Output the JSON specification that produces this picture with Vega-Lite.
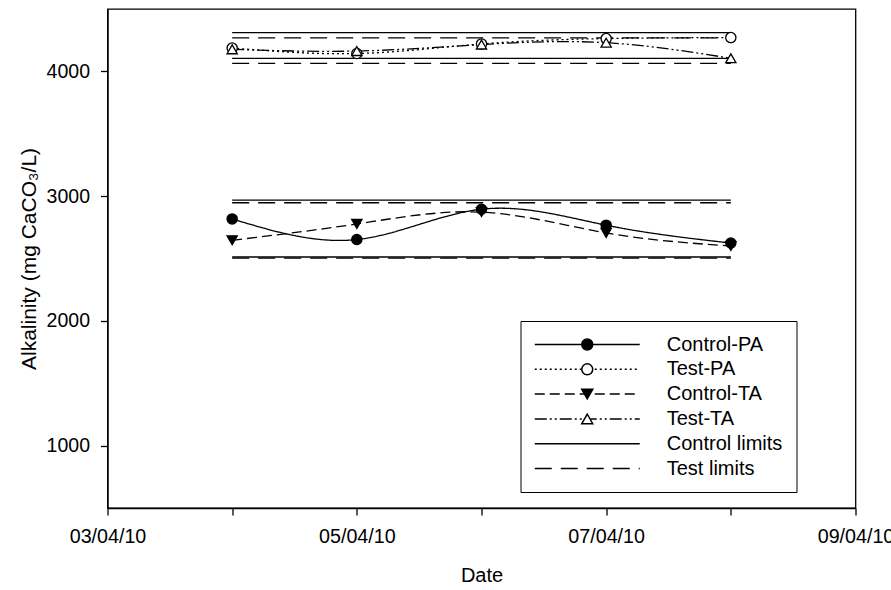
{
  "$schema": "https://vega.github.io/schema/vega-lite/v6.json",
  "width": 748,
  "height": 499,
  "autosize": {"type": "none"},
  "padding": {"left": 107.5, "top": 9, "right": 35.5, "bottom": 82},
  "background": "white",
  "config": {
    "font": "Liberation Sans",
    "view": {"stroke": "black", "strokeWidth": 1.3},
    "axis": {
      "domainColor": "black", "domainWidth": 1.3, "tickColor": "black", "tickWidth": 1.3,
      "labelColor": "black", "titleColor": "black", "titleFontWeight": "normal", "grid": false,
      "labelFont": "Liberation Sans", "titleFont": "Liberation Sans"
    },
    "legend": {"labelFont": "Liberation Sans"}
  },
  "datasets": {
    "pts": [
      {"series": "Control-PA", "date": "2010/04/04", "value": 2817},
      {"series": "Control-PA", "date": "2010/04/05", "value": 2652},
      {"series": "Control-PA", "date": "2010/04/06", "value": 2895},
      {"series": "Control-PA", "date": "2010/04/07", "value": 2767},
      {"series": "Control-PA", "date": "2010/04/08", "value": 2624},
      {"series": "Test-PA", "date": "2010/04/04", "value": 4187},
      {"series": "Test-PA", "date": "2010/04/05", "value": 4143},
      {"series": "Test-PA", "date": "2010/04/06", "value": 4220},
      {"series": "Test-PA", "date": "2010/04/07", "value": 4263},
      {"series": "Test-PA", "date": "2010/04/08", "value": 4271},
      {"series": "Control-TA", "date": "2010/04/04", "value": 2646},
      {"series": "Control-TA", "date": "2010/04/05", "value": 2777},
      {"series": "Control-TA", "date": "2010/04/06", "value": 2872},
      {"series": "Control-TA", "date": "2010/04/07", "value": 2705},
      {"series": "Control-TA", "date": "2010/04/08", "value": 2600},
      {"series": "Test-TA", "date": "2010/04/04", "value": 4177},
      {"series": "Test-TA", "date": "2010/04/05", "value": 4163},
      {"series": "Test-TA", "date": "2010/04/06", "value": 4215},
      {"series": "Test-TA", "date": "2010/04/07", "value": 4230},
      {"series": "Test-TA", "date": "2010/04/08", "value": 4105}
    ],
    "lim": [
      {"series": "Control limits", "date": "2010/04/04", "end": "2010/04/08", "value": 4310},
      {"series": "Control limits", "date": "2010/04/04", "end": "2010/04/08", "value": 4104},
      {"series": "Control limits", "date": "2010/04/04", "end": "2010/04/08", "value": 2968},
      {"series": "Control limits", "date": "2010/04/04", "end": "2010/04/08", "value": 2512},
      {"series": "Test limits", "date": "2010/04/04", "end": "2010/04/08", "value": 4268},
      {"series": "Test limits", "date": "2010/04/04", "end": "2010/04/08", "value": 4064},
      {"series": "Test limits", "date": "2010/04/04", "end": "2010/04/08", "value": 2947},
      {"series": "Test limits", "date": "2010/04/04", "end": "2010/04/08", "value": 2503}
    ]
  },
  "encoding": {
    "x": {
      "field": "date", "type": "temporal",
      "scale": {"domain": [{"year": 2010, "month": 4, "date": 3}, {"year": 2010, "month": 4, "date": 9}], "nice": false},
      "axis": {
        "title": "Date",
        "values": [
          {"year": 2010, "month": 4, "date": 3}, {"year": 2010, "month": 4, "date": 4},
          {"year": 2010, "month": 4, "date": 5}, {"year": 2010, "month": 4, "date": 6},
          {"year": 2010, "month": 4, "date": 7}, {"year": 2010, "month": 4, "date": 8},
          {"year": 2010, "month": 4, "date": 9}
        ],
        "labelExpr": "date(datum.value) % 2 == 1 ? timeFormat(datum.value, '%d/%m/%y') : ''",
        "labelFontSize": 19.7, "labelPadding": 11.5, "labelDx": -6, "tickSize": 7,
        "titleFontSize": 20, "titlePadding": 19.5,
        "labelOverlap": false, "labelBound": false, "labelFlush": false, "grid": false
      }
    },
    "y": {
      "field": "value", "type": "quantitative",
      "scale": {"domain": [500, 4500], "nice": false, "zero": false},
      "axis": {
        "title": "Alkalinity (mg CaCO₃/L)",
        "values": [1000, 2000, 3000, 4000], "format": "d",
        "labelFontSize": 19.5, "labelPadding": 11, "tickSize": 7,
        "titleFontSize": 21, "titlePadding": 7, "grid": false
      }
    }
  },
  "layer": [
    {
      "data": {"name": "lim"},
      "mark": {"type": "rule", "strokeWidth": 1.3, "color": "black"},
      "encoding": {
        "x2": {"field": "end"},
        "strokeDash": {
          "field": "series", "type": "nominal",
          "scale": {
            "domain": ["Control-PA", "Test-PA", "Control-TA", "Test-TA", "Control limits", "Test limits"],
            "range": [[1, 0], [2, 3], [10, 5], [12, 3, 2, 3, 2, 3], [1, 0], [17, 9]]
          },
          "legend": {
            "orient": "none", "legendX": 413, "legendY": 312, "title": null, "direction": "vertical",
            "padding": 13.5, "strokeColor": "black", "rowPadding": 4.8,
            "symbolType": "M-10.5,0H10.5", "symbolSize": 100, "symbolOffset": 43.25,
            "symbolStrokeWidth": 1.5, "symbolStrokeColor": "black", "symbolFillColor": "transparent",
            "labelOffset": 69.5, "labelFontSize": 20, "labelColor": "black", "labelLimit": 0,
            "zindex": 0
          }
        }
      }
    },
    {
      "data": {"name": "pts"},
      "mark": {"type": "line", "interpolate": "natural", "strokeWidth": 1.3, "color": "black"},
      "encoding": {
        "strokeDash": {
          "field": "series", "type": "nominal",
          "scale": {
            "domain": ["Control-PA", "Test-PA", "Control-TA", "Test-TA", "Control limits", "Test limits"],
            "range": [[1, 0], [2, 3], [10, 5], [12, 3, 2, 3, 2, 3], [1, 0], [17, 9]]
          }
        }
      }
    },
    {
      "data": {"name": "pts"},
      "mark": {"type": "point", "filled": true, "strokeWidth": 1.3, "opacity": 1},
      "encoding": {
        "shape": {
          "field": "series", "type": "nominal",
          "scale": {"domain": ["Control-PA", "Test-PA", "Control-TA", "Test-TA"], "range": ["circle", "circle", "triangle-down", "triangle-up"]},
          "legend": {
            "orient": "none", "legendX": 413, "legendY": 312, "title": null, "direction": "vertical",
            "padding": 13.5, "rowPadding": 4.8,
            "symbolSize": 120, "symbolOffset": 43.25, "symbolStrokeWidth": 1.5, "symbolStrokeColor": "black",
            "labelOffset": 69.5, "labelFontSize": 20, "labelOpacity": 0, "labelLimit": 0,
            "zindex": 1
          }
        },
        "fill": {
          "field": "series", "type": "nominal",
          "scale": {"domain": ["Control-PA", "Test-PA", "Control-TA", "Test-TA"], "range": ["black", "white", "black", "white"]},
          "legend": {
            "orient": "none", "legendX": 413, "legendY": 312, "title": null, "direction": "vertical",
            "padding": 13.5, "rowPadding": 4.8,
            "symbolSize": 120, "symbolOffset": 43.25, "symbolStrokeWidth": 1.5, "symbolStrokeColor": "black",
            "labelOffset": 69.5, "labelFontSize": 20, "labelOpacity": 0, "labelLimit": 0,
            "zindex": 1
          }
        },
        "stroke": {
          "field": "series", "type": "nominal",
          "scale": {"domain": ["Control-PA", "Test-PA", "Control-TA", "Test-TA"], "range": ["black", "black", "black", "black"]},
          "legend": {
            "orient": "none", "legendX": 413, "legendY": 312, "title": null, "direction": "vertical",
            "padding": 13.5, "rowPadding": 4.8,
            "symbolSize": 120, "symbolOffset": 43.25, "symbolStrokeWidth": 1.5, "symbolStrokeColor": "black",
            "labelOffset": 69.5, "labelFontSize": 20, "labelOpacity": 0, "labelLimit": 0,
            "zindex": 1
          }
        },
        "size": {
          "field": "series", "type": "nominal",
          "scale": {"domain": ["Control-PA", "Test-PA", "Control-TA", "Test-TA", "none"], "range": [105, 105, 137, 137, 105]},
          "legend": null
        }
      }
    }
  ]
}
